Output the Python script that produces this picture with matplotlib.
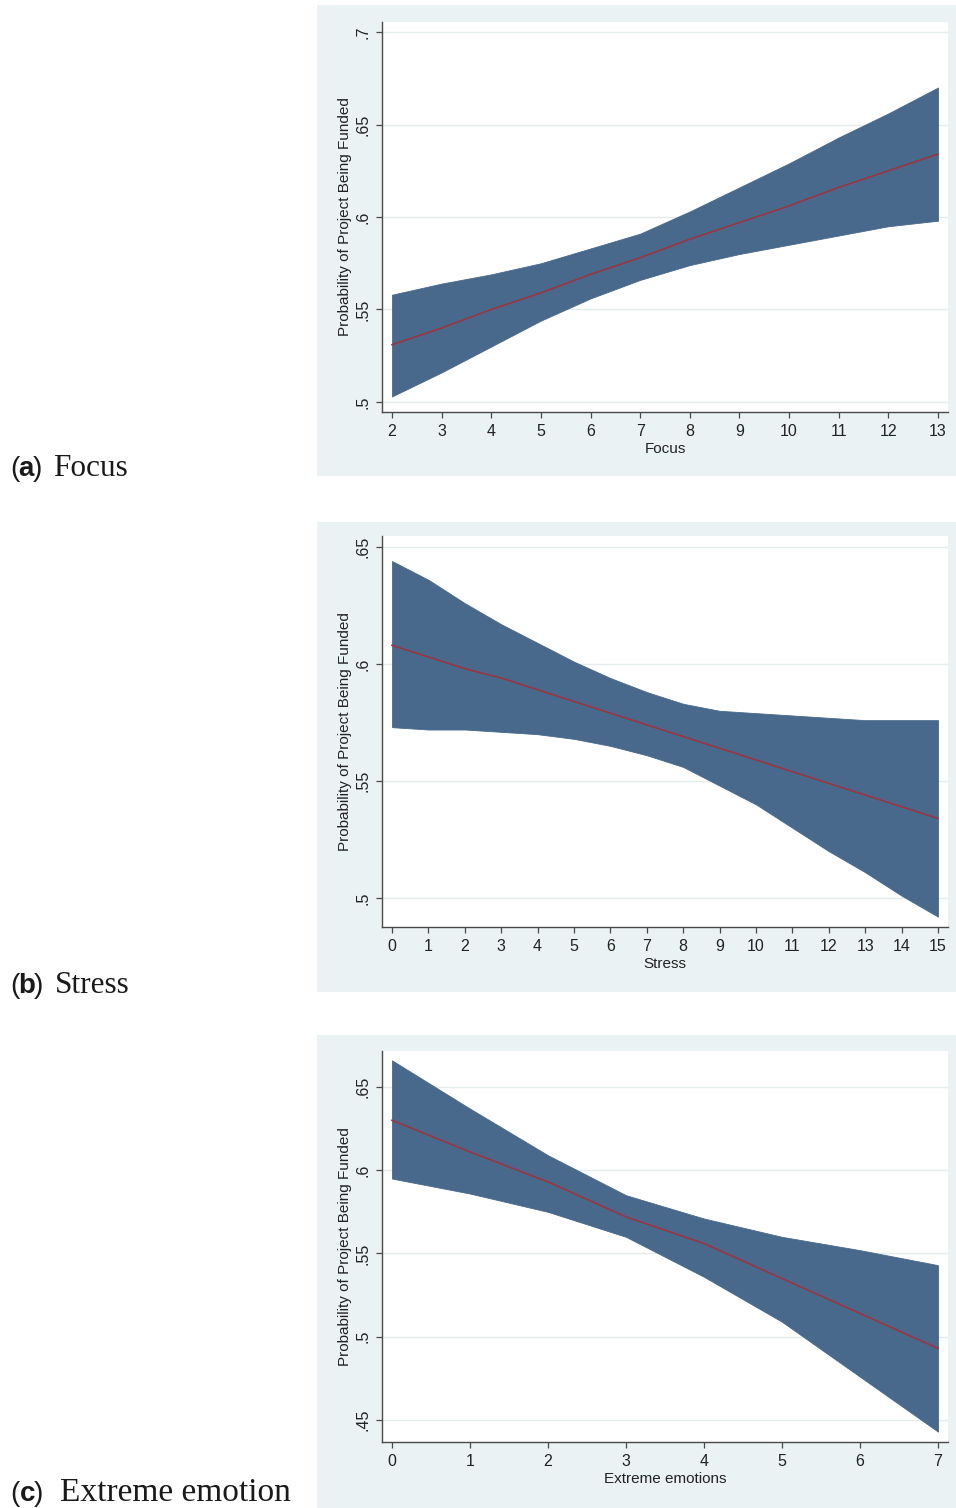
import numpy as np
import matplotlib
matplotlib.use("Agg")
import matplotlib.pyplot as plt
from matplotlib.patches import Rectangle
from matplotlib.ticker import FixedLocator, FuncFormatter

# predicted probability with 95% CI, one panel per predictor
focus_x = [2, 3, 4, 5, 6, 7, 8, 9, 10, 11, 12, 13]
focus_hi = [0.558, 0.564, 0.569, 0.575, 0.583, 0.591, 0.603, 0.616, 0.629, 0.643, 0.656, 0.670]
focus_mid = [0.531, 0.540, 0.550, 0.559, 0.569, 0.578, 0.588, 0.597, 0.606, 0.616, 0.625, 0.634]
focus_lo = [0.503, 0.516, 0.530, 0.544, 0.556, 0.566, 0.574, 0.580, 0.585, 0.590, 0.595, 0.598]

stress_x = list(range(0, 16))
stress_hi = [0.644, 0.636, 0.626, 0.617, 0.609, 0.601, 0.594, 0.588, 0.583, 0.580,
             0.579, 0.578, 0.577, 0.576, 0.576, 0.576]
stress_mid = [0.608, 0.603, 0.598, 0.594, 0.589, 0.584, 0.579, 0.574, 0.569, 0.564,
              0.559, 0.554, 0.549, 0.544, 0.539, 0.534]
stress_lo = [0.573, 0.572, 0.572, 0.571, 0.570, 0.568, 0.565, 0.561, 0.556, 0.548,
             0.540, 0.530, 0.520, 0.511, 0.501, 0.492]

emo_x = [0, 1, 2, 3, 4, 5, 6, 7]
emo_hi = [0.666, 0.637, 0.609, 0.585, 0.571, 0.560, 0.552, 0.543]
emo_mid = [0.630, 0.611, 0.593, 0.572, 0.556, 0.535, 0.514, 0.493]
emo_lo = [0.595, 0.586, 0.575, 0.560, 0.536, 0.509, 0.476, 0.443]

focus_yticks = [0.5, 0.55, 0.6, 0.65, 0.7]
stress_yticks = [0.5, 0.55, 0.6, 0.65]
emo_yticks = [0.45, 0.5, 0.55, 0.6, 0.65]

W, H = 956, 1508
BG = "#eaf2f3"
BAND = "#48698b"
LINE = "#9a3541"
SPINE = "#4a4a4a"
SANS = "Liberation Sans"
SERIF = "Liberation Serif"

fig = plt.figure(figsize=(W / 100, H / 100), dpi=100)
fig.patch.set_facecolor("white")


def px_rect(l, t, r, b):
    return [l / W, 1 - b / H, (r - l) / W, (b - t) / H]


def dot_fmt(v, pos):
    s = f"{v:g}"
    return s[1:] if s.startswith("0") else s


def panel(box, plot, x, lo, mid, hi, xlim, ylim, yticks, xlabel):
    l, t, r, b = box
    fig.patches.append(Rectangle((l / W, 1 - b / H), (r - l) / W, (b - t) / H,
                                 transform=fig.transFigure, facecolor=BG,
                                 edgecolor="none", zorder=-5))
    ax = fig.add_axes(px_rect(*plot))
    ax.set_zorder(1)
    ax.set_facecolor("white")
    ax.set_xlim(*xlim)
    ax.set_ylim(*ylim)
    for yv in yticks:
        ax.axhline(yv, color="#e4ecee", lw=1.0, zorder=1)
    ax.fill_between(x, lo, hi, color=BAND, lw=0.6, edgecolor=BAND, zorder=2)
    ax.plot(x, mid, color=LINE, lw=1.2, zorder=3)

    ax.xaxis.set_major_locator(FixedLocator(x))
    ax.yaxis.set_major_locator(FixedLocator(yticks))
    ax.yaxis.set_major_formatter(FuncFormatter(dot_fmt))
    for side in ("top", "right"):
        ax.spines[side].set_visible(False)
    for side in ("left", "bottom"):
        ax.spines[side].set_color(SPINE)
        ax.spines[side].set_linewidth(1.0)
    ax.tick_params(direction="out", length=4.5, width=0.9, color=SPINE,
                   labelsize=11.5, labelcolor="#222222", pad=4)
    for lab in ax.get_xticklabels() + ax.get_yticklabels():
        lab.set_fontfamily(SANS)
    for lab in ax.get_yticklabels():
        lab.set_rotation(90)
        lab.set_va("center")
    ax.set_xlabel(xlabel, fontsize=11, family=SANS, color="#222222", labelpad=2)
    ax.set_ylabel("Probability of Project Being Funded", fontsize=11,
                  family=SANS, color="#222222", labelpad=2)
    return ax


panel((317, 5, 960, 476), (382, 22, 948, 412), focus_x, focus_lo, focus_mid, focus_hi,
      (1.7985, 13.2015), (0.49459, 0.70541), focus_yticks, "Focus")
panel((317, 522, 960, 992), (382, 536, 948, 927), stress_x, stress_lo, stress_mid, stress_hi,
      (-0.2747, 15.2747), (0.4876, 0.6547), stress_yticks, "Stress")
panel((317, 1035, 960, 1512), (382, 1051, 948, 1442), emo_x, emo_lo, emo_mid, emo_hi,
      (-0.128, 7.128), (0.4368, 0.6716), emo_yticks, "Extreme emotions")


# sub-figure captions: sans "(x)" with bold letter, then serif caption
def caption(base_y, letter, letter_x, close_x, text, text_x, size):
    y = 1 - base_y / H
    kw = dict(fontsize=20, va="baseline", ha="left", color="#1a1a1a")
    fig.text(10 / W, y, "(", family=SANS, **kw)
    fig.text(letter_x / W, y, letter, family=SANS, weight="bold", **kw)
    fig.text(close_x / W, y, ")", family=SANS, **kw)
    fig.text(text_x / W, y, text, family=SERIF, fontsize=size, va="baseline",
             ha="left", color="#1a1a1a")


caption(476, "a", 18.5, 33, "Focus", 53, 22.5)
caption(993, "b", 18.5, 33.5, "Stress", 55, 22.5)
caption(1501, "c", 19.5, 33.5, "Extreme emotion", 60, 24)

fig.savefig("out.png", dpi=100, facecolor="white")
